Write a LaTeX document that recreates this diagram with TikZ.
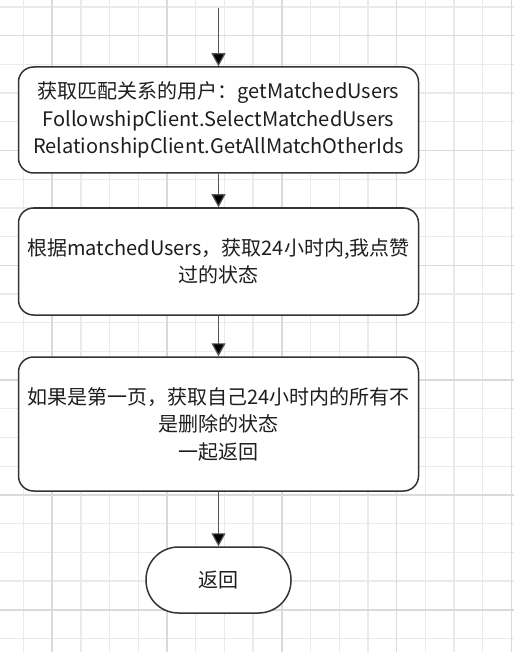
\documentclass[tikz,border=0pt]{standalone}
\usepackage{fontspec}
\setmainfont{Noto Sans CJK SC}
\usetikzlibrary{arrows.meta}
\definecolor{gridminor}{HTML}{EAEAEA}
\definecolor{gridmajor}{HTML}{DADADA}
\definecolor{boxline}{HTML}{333333}
\definecolor{arrline}{HTML}{555555}
\definecolor{txt}{HTML}{1E1E1E}
\tikzset{
  minorline/.style={gridminor, line width=1.3pt},
  majorline/.style={gridmajor, line width=1.6pt},
  procbox/.style={draw=boxline, line width=1.5pt, fill=white, rounded corners=15pt,
    minimum width=400pt, align=center, text=txt, font=\fontsize{20}{27.5}\selectfont, inner sep=0pt},
  termbox/.style={draw=boxline, line width=1.5pt, fill=white, rounded corners=32.5pt,
    minimum width=145pt, minimum height=66pt, text=txt, font=\fontsize{20}{27.5}\selectfont, inner sep=0pt},
  arr/.style={arrline, line width=1.2pt, -{Triangle[length=13pt,width=14pt,fill=black]}}
}
\begin{document}
\begin{tikzpicture}[x=1pt,y=-1pt]
\useasboundingbox (0,0) rectangle (514,652);
\fill[white] (0,0) rectangle (514,652);
\foreach \i in {0,...,17} \draw[minorline] ({23.5+28.7*\i},0) -- ({23.5+28.7*\i},652);
\foreach \i in {0,...,22} \draw[minorline] (0,{7+28.7*\i}) -- (514,{7+28.7*\i});
\foreach \i in {0,...,4} \draw[majorline] ({52.2+114.8*\i},0) -- ({52.2+114.8*\i},652);
\foreach \i in {0,...,5} \draw[majorline] (0,{35.7+114.8*\i}) -- (514,{35.7+114.8*\i});

\coordinate (start) at (218.5,8);
\node[procbox, minimum height=106pt] (b1) at (218.5,120) {获取匹配关系的用户：getMatchedUsers\\FollowshipClient.SelectMatchedUsers\\RelationshipClient.GetAllMatchOtherIds};
\node[procbox, minimum height=107pt] (b2) at (218.5,261.5) {根据matchedUsers，获取24小时内,我点赞\\过的状态};
\node[procbox, minimum height=134pt] (b3) at (218.5,424) {如果是第一页，获取自己24小时内的所有不\\是删除的状态\\一起返回};
\node[termbox] (t) at (218.5,580) {返回};

\draw[arr] (start) -- (b1);
\draw[arr] (b1) -- (b2);
\draw[arr] (b2) -- (b3);
\draw[arr] (b3) -- (t);
\end{tikzpicture}
\end{document}
